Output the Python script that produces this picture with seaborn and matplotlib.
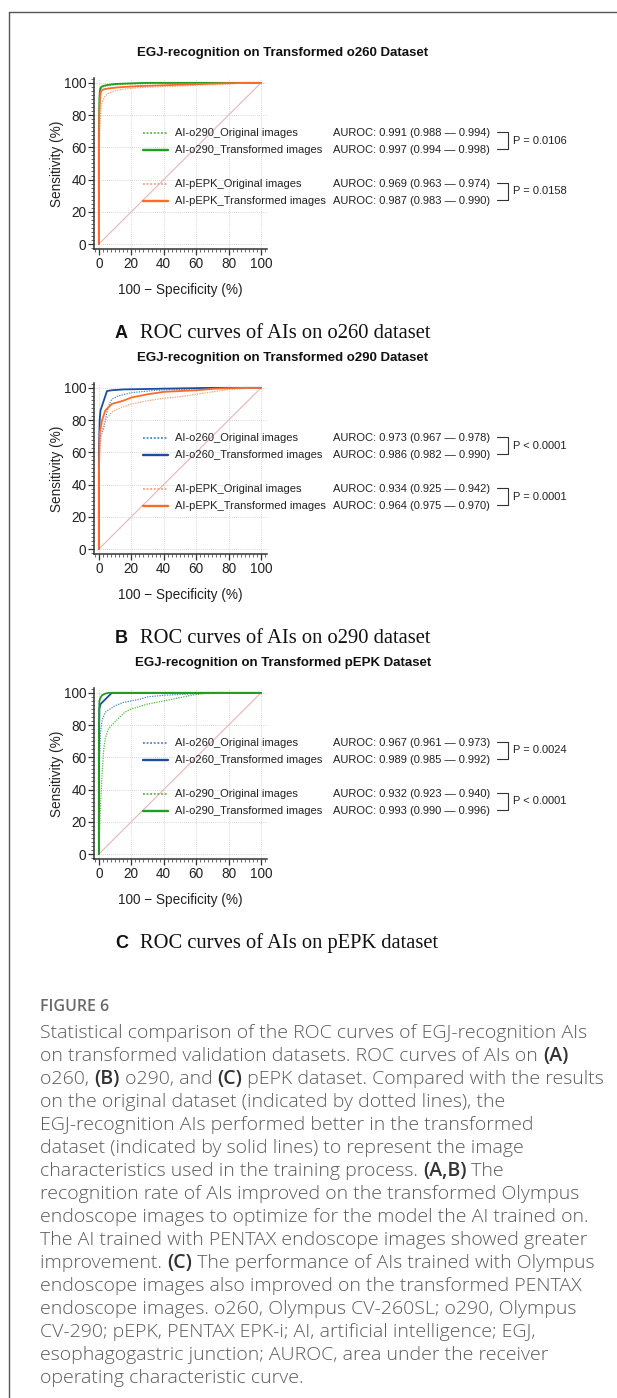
import matplotlib
matplotlib.use("Agg")
import matplotlib.pyplot as plt
import seaborn as sns
from matplotlib.lines import Line2D
from matplotlib.ticker import MultipleLocator

sns.set_theme(style="white")
plt.rcParams['font.family'] = ['Liberation Sans', 'DejaVu Sans']

# ---------------- data ----------------
# Panel A: Transformed o260 dataset
a_o290_orig_fpr = [0, 0, 0.3, 0.6, 1, 1.5, 2.5, 4, 7, 12, 20, 35, 50, 100]
a_o290_orig_tpr = [0, 55, 82, 92, 95, 96.5, 97.5, 98, 98.5, 99, 99.3, 99.7, 100, 100]
a_o290_tran_fpr = [0, 0, 0.3, 0.6, 1, 2, 3, 6, 10, 20, 30, 100]
a_o290_tran_tpr = [0, 70, 90, 95, 97, 97.8, 98.2, 98.8, 99.3, 99.7, 100, 100]
a_pepk_orig_fpr = [0, 0, 0.5, 1, 1.5, 2, 3, 4, 6, 8, 12, 18, 25, 35, 50, 65, 80, 92, 100]
a_pepk_orig_tpr = [0, 40, 70, 80, 85, 88, 90, 92, 93.5, 94.5, 95.5, 96.5, 97, 97.5, 98, 98.7, 99.3, 100, 100]
a_pepk_tran_fpr = [0, 0, 0.3, 0.7, 1, 1.5, 2.5, 4, 6, 10, 16, 25, 40, 55, 70, 90, 100]
a_pepk_tran_tpr = [0, 60, 82, 90, 93, 95, 95.8, 96.2, 96.5, 97, 97.5, 98, 98.5, 99, 99.5, 100, 100]

# Panel B: Transformed o290 dataset
b_o260_orig_fpr = [0, 0, 0.5, 1, 2, 3, 4, 5, 6.5, 8, 12, 20, 35, 60, 72, 100]
b_o260_orig_tpr = [0, 40, 65, 70, 72, 75, 80, 85, 90, 93, 95, 97, 98.5, 99.3, 100, 100]
b_o260_tran_fpr = [0, 0, 0.5, 1, 2, 3, 4, 5, 8, 15, 40, 70, 100]
b_o260_tran_tpr = [0, 60, 80, 86, 89, 92, 95, 98, 98.5, 99, 99.5, 100, 100]
b_pepk_orig_fpr = [0, 0, 0.5, 2, 4, 8, 12, 20, 30, 40, 50, 60, 70, 80, 90, 100]
b_pepk_orig_tpr = [0, 40, 62, 74, 80, 85, 87, 90, 92, 93.5, 94.5, 96, 97.5, 99, 99.5, 100]
b_pepk_tran_fpr = [0, 0, 0.5, 2, 4, 8, 15, 20, 30, 40, 60, 72, 90, 100]
b_pepk_tran_tpr = [0, 45, 72, 80, 86, 90, 92, 94, 96, 97.5, 98.5, 99.5, 100, 100]

# Panel C: Transformed pEPK dataset
c_o260_orig_fpr = [0, 0, 0.5, 1, 2, 4, 7, 10, 15, 20, 25, 30, 40, 50, 70, 100]
c_o260_orig_tpr = [0, 30, 60, 75, 83, 88, 90, 92, 94, 95, 96, 97.5, 98.5, 99, 100, 100]
c_o260_tran_fpr = [0, 0, 0.3, 1, 3, 5, 7, 8, 100]
c_o260_tran_tpr = [0, 60, 90, 93, 95, 97, 99, 100, 100]
c_o290_orig_fpr = [0, 0.5, 1, 2, 3, 4, 6, 8, 12, 16, 20, 25, 30, 40, 50, 57, 65, 100]
c_o290_orig_tpr = [0, 15, 30, 50, 65, 72, 78, 80, 84, 88, 90, 91.5, 93, 95, 97, 98.5, 99.5, 100]
c_o290_tran_fpr = [0, 0, 0.3, 1, 2, 4, 6, 100]
c_o290_tran_tpr = [0, 70, 95, 97, 98.5, 99.5, 100, 100]

titles = ["EGJ-recognition on Transformed o260 Dataset",
          "EGJ-recognition on Transformed o290 Dataset",
          "EGJ-recognition on Transformed pEPK Dataset"]
legend_labels = [
    ["AI-o290_Original images", "AI-o290_Transformed images",
     "AI-pEPK_Original images", "AI-pEPK_Transformed images"],
    ["AI-o260_Original images", "AI-o260_Transformed images",
     "AI-pEPK_Original images", "AI-pEPK_Transformed images"],
    ["AI-o260_Original images", "AI-o260_Transformed images",
     "AI-o290_Original images", "AI-o290_Transformed images"],
]
auroc_texts = [
    ["AUROC: 0.991 (0.988 \u2014 0.994)", "AUROC: 0.997 (0.994 \u2014 0.998)",
     "AUROC: 0.969 (0.963 \u2014 0.974)", "AUROC: 0.987 (0.983 \u2014 0.990)"],
    ["AUROC: 0.973 (0.967 \u2014 0.978)", "AUROC: 0.986 (0.982 \u2014 0.990)",
     "AUROC: 0.934 (0.925 \u2014 0.942)", "AUROC: 0.964 (0.975 \u2014 0.970)"],
    ["AUROC: 0.967 (0.961 \u2014 0.973)", "AUROC: 0.989 (0.985 \u2014 0.992)",
     "AUROC: 0.932 (0.923 \u2014 0.940)", "AUROC: 0.993 (0.990 \u2014 0.996)"],
]
p_texts = [["P = 0.0106", "P = 0.0158"],
           ["P < 0.0001", "P = 0.0001"],
           ["P = 0.0024", "P < 0.0001"]]
panel_letters = ["A", "B", "C"]
panel_captions = ["ROC curves of AIs on o260 dataset",
                  "ROC curves of AIs on o290 dataset",
                  "ROC curves of AIs on pEPK dataset"]
x_ticks = [0, 20, 40, 60, 80, 100]
y_ticks = [0, 20, 40, 60, 80, 100]

caption_head = "FIGURE 6"
caption_lines = [
    "Statistical comparison of the ROC curves of EGJ-recognition AIs",
    "on transformed validation datasets. ROC curves of AIs on **(A)**",
    "o260, **(B)** o290, and **(C)** pEPK dataset. Compared with the results",
    "on the original dataset (indicated by dotted lines), the",
    "EGJ-recognition AIs performed better in the transformed",
    "dataset (indicated by solid lines) to represent the image",
    "characteristics used in the training process. **(A,B)** The",
    "recognition rate of AIs improved on the transformed Olympus",
    "endoscope images to optimize for the model the AI trained on.",
    "The AI trained with PENTAX endoscope images showed greater",
    "improvement. **(C)** The performance of AIs trained with Olympus",
    "endoscope images also improved on the transformed PENTAX",
    "endoscope images. o260, Olympus CV-260SL; o290, Olympus",
    "CV-290; pEPK, PENTAX EPK-i; AI, artificial intelligence; EGJ,",
    "esophagogastric junction; AUROC, area under the receiver",
    "operating characteristic curve.",
]

# ---------------- styles ----------------
GREEN_D = "#55bb3c"
GREEN_S = "#1f9e1f"
ORANGE_D = "#ffa070"
ORANGE_S = "#ff6a2a"
BLUE_D = "#4a86d4"
BLUE_S = "#1d4d9e"
DOT = (0, (1, 1))

panels = [
    [(a_o290_orig_fpr, a_o290_orig_tpr, GREEN_D, DOT, 0.9),
     (a_o290_tran_fpr, a_o290_tran_tpr, GREEN_S, "-", 1.3),
     (a_pepk_orig_fpr, a_pepk_orig_tpr, ORANGE_D, DOT, 0.9),
     (a_pepk_tran_fpr, a_pepk_tran_tpr, ORANGE_S, "-", 1.3)],
    [(b_o260_orig_fpr, b_o260_orig_tpr, BLUE_D, DOT, 0.9),
     (b_o260_tran_fpr, b_o260_tran_tpr, BLUE_S, "-", 1.3),
     (b_pepk_orig_fpr, b_pepk_orig_tpr, ORANGE_D, DOT, 0.9),
     (b_pepk_tran_fpr, b_pepk_tran_tpr, ORANGE_S, "-", 1.3)],
    [(c_o260_orig_fpr, c_o260_orig_tpr, BLUE_D, DOT, 0.9),
     (c_o260_tran_fpr, c_o260_tran_tpr, BLUE_S, "-", 1.3),
     (c_o290_orig_fpr, c_o290_orig_tpr, GREEN_D, DOT, 0.9),
     (c_o290_tran_fpr, c_o290_tran_tpr, GREEN_S, "-", 1.3)],
]

W, H = 617, 1398
fig = plt.figure(figsize=(W / 100, H / 100), dpi=100)
fig.patch.set_facecolor("white")


def fx(x):
    return x / W


def fy(y):
    return 1 - y / H


def fig_line(xs, ys, **kw):
    fig.add_artist(Line2D([fx(v) for v in xs], [fy(v) for v in ys],
                          transform=fig.transFigure, **kw))


# border of the figure box
fig_line([9, 617], [12, 12], color="#555555", lw=1.0)
fig_line([9, 9], [12, 1398], color="#555555", lw=1.0)

for i, curves in enumerate(panels):
    dy = [0, 305, 610][i]
    left, right, top, bottom = 94, 267, 78 + dy, 249 + dy
    ax = fig.add_axes([fx(left), fy(bottom), (right - left) / W, (bottom - top) / H])
    ax.set_facecolor("white")
    ax.set_xlim(-3, 103.7)
    ax.set_ylim(-3.1, 103)
    ax.set_xticks(x_ticks)
    ax.set_yticks(y_ticks)
    ax.xaxis.set_minor_locator(MultipleLocator(2.5))
    ax.yaxis.set_minor_locator(MultipleLocator(2.5))
    ax.grid(True, which="major", color="#c8c8c8", linestyle=(0, (1, 1.5)), lw=0.6)
    ax.plot([0, 100], [0, 100], color="#eab5b5", lw=0.8, zorder=1)
    for fpr, tpr, col, ls, lw in curves:
        sns.lineplot(x=fpr, y=tpr, ax=ax, color=col, linestyle=ls, linewidth=lw,
                     estimator=None, sort=False, legend=False, zorder=3)
    for s in ["top", "right"]:
        ax.spines[s].set_visible(False)
    for s in ["left", "bottom"]:
        ax.spines[s].set_color("#333333")
        ax.spines[s].set_linewidth(1.1)
    ax.tick_params(which="major", direction="out", length=4, width=0.9,
                   color="#333333", labelsize=9.8, labelcolor="#222222", pad=1.5,
                   left=True, bottom=True)
    ax.tick_params(which="minor", direction="out", length=2, width=0.6,
                   color="#555555", left=True, bottom=True)
    ax.set_xlabel("100 \u2212 Specificity (%)", fontsize=9.8, color="#222222", labelpad=9)
    ax.set_ylabel("Sensitivity (%)", fontsize=9.8, color="#222222", labelpad=0)

    fig.text(fx(283), fy(53 + dy), titles[i], ha="center", va="center",
             fontsize=9.5, fontweight="bold", color="#111111")

    rows = [133 + dy, 150 + dy, 184 + dy, 201 + dy]
    for k, r in enumerate(rows):
        fpr, tpr, col, ls, lw = curves[k]
        fig_line([143, 168], [r, r], color=col, linestyle=ls, lw=lw + 0.4)
        fig.text(fx(175), fy(r), legend_labels[i][k], ha="left", va="center",
                 fontsize=8, color="#222222")
        fig.text(fx(333), fy(r), auroc_texts[i][k], ha="left", va="center",
                 fontsize=8, color="#222222")
    for j in range(2):
        r0, r1 = rows[2 * j] - 1, rows[2 * j + 1] - 1
        fig_line([497, 508, 508, 497], [r0, r0, r1, r1], color="#333333", lw=0.8)
        fig.text(fx(513), fy((r0 + r1) / 2), p_texts[i][j], ha="left", va="center",
                 fontsize=8, color="#222222")

    cy = 333 + dy
    fig.text(fx(115), fy(cy), panel_letters[i], ha="left", va="center",
             fontsize=13, fontweight="bold", color="#111111")
    fig.text(fx(140), fy(cy), panel_captions[i], ha="left", va="center",
             fontsize=14.8, family=["Liberation Serif", "DejaVu Serif"], color="#111111")

# figure caption
CAP_FONT = ["Open Sans", "DejaVu Sans"]
CAP_SIZE = 14
fig.text(fx(40), fy(1007), caption_head, ha="left", va="center", fontsize=11.5,
         fontweight="semibold", family=CAP_FONT, color="#6a6a6a")

renderer = fig.canvas.get_renderer()


def text_advance(s, weight):
    t1 = fig.text(0, 0, s + "|", fontsize=CAP_SIZE, family=CAP_FONT, fontweight=weight)
    t2 = fig.text(0, 0, "|", fontsize=CAP_SIZE, family=CAP_FONT, fontweight=weight)
    w = t1.get_window_extent(renderer).width - t2.get_window_extent(renderer).width
    t1.remove()
    t2.remove()
    return w


for n, line in enumerate(caption_lines):
    y = 1033 + 23 * n
    x = 40.0
    parts = line.split("**")
    for m, seg in enumerate(parts):
        if not seg:
            continue
        bold = (m % 2 == 1)
        weight = "semibold" if bold else "light"
        fig.text(fx(x), fy(y), seg, ha="left", va="center", fontsize=CAP_SIZE,
                 family=CAP_FONT, fontweight=weight,
                 color="#333333" if bold else "#5a5a5a")
        x += text_advance(seg, weight)

fig.savefig("out.png", dpi=100, facecolor="white")
